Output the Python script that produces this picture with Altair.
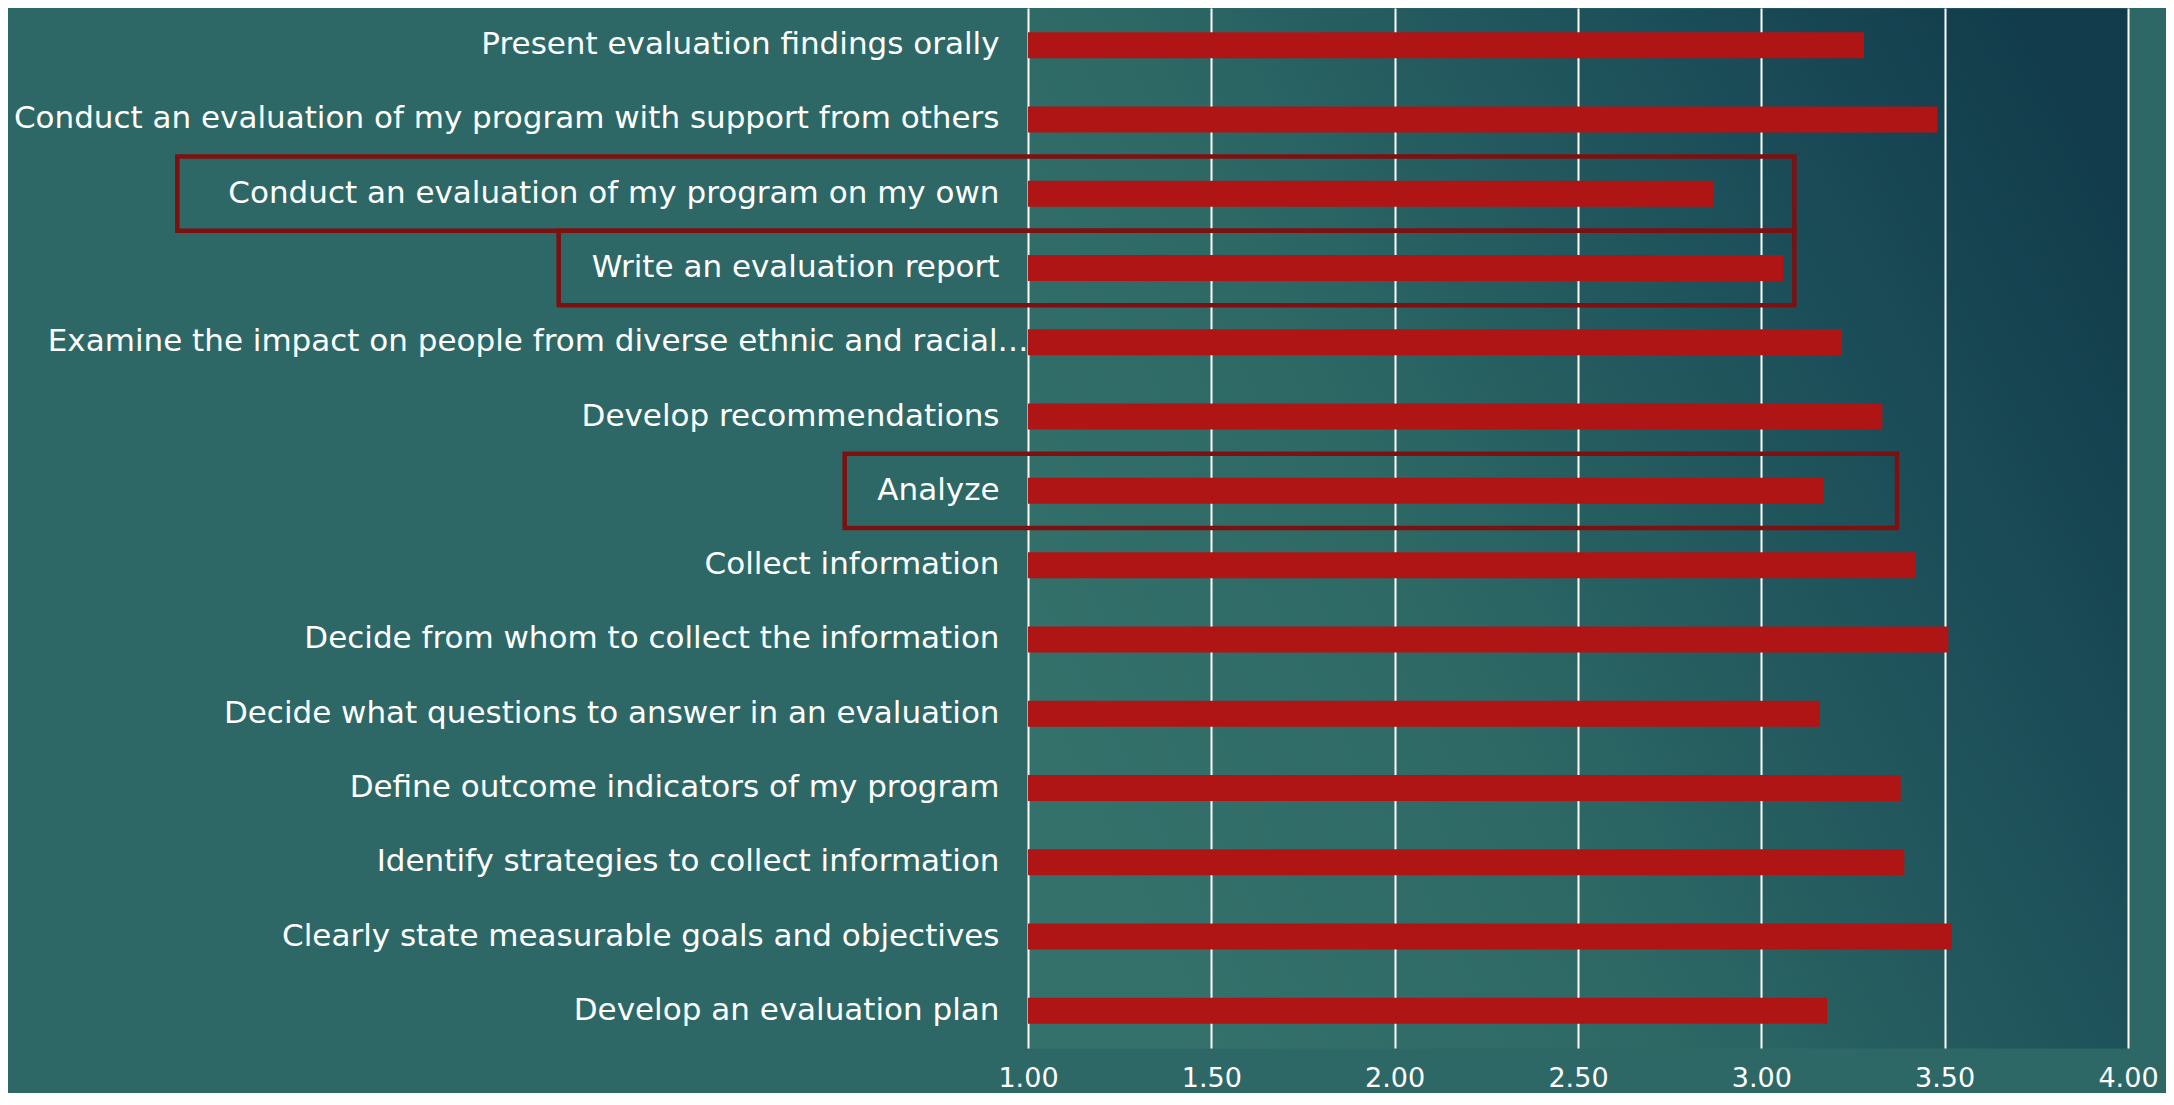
import altair as alt
import pandas as pd

# ---- data ----
categories = [
    "Present evaluation findings orally",
    "Conduct an evaluation of my program with support from others",
    "Conduct an evaluation of my program on my own",
    "Write an evaluation report",
    "Examine the impact on people from diverse ethnic and racial\u2026",
    "Develop recommendations\u00a0",
    "Analyze\u00a0",
    "Collect information",
    "Decide from whom to collect the information",
    "Decide what questions to answer in an evaluation",
    "Define outcome indicators of my program",
    "Identify strategies to collect information",
    "Clearly state measurable goals and objectives",
    "Develop an evaluation plan",
]
scores = [3.28, 3.48, 2.87, 3.06, 3.22, 3.33, 3.17, 3.42, 3.51, 3.16, 3.38, 3.39, 3.52, 3.18]
tick_values = [1.0, 1.5, 2.0, 2.5, 3.0, 3.5, 4.0]

# highlight boxes (in axis units)
box_items = [categories[2], categories[3], categories[6]]
box_start = [-1.32, -0.28, 0.50]
box_end = [3.09, 3.09, 3.37]

df = pd.DataFrame({"item": categories, "score": scores})
box_df = pd.DataFrame({"item": box_items, "x0": box_start, "x1": box_end})

FONT = "DejaVu Sans"
x_scale = alt.Scale(domain=[1, 4], nice=False, zero=False)

bars = alt.Chart(df).mark_bar(color="#b01515").encode(
    y=alt.Y(
        "item:N",
        sort=categories,
        scale=alt.Scale(domain=categories, paddingInner=0.65, paddingOuter=0.325),
        axis=alt.Axis(
            title=None,
            ticks=False,
            domain=False,
            grid=False,
            labelColor="white",
            labelFont=FONT,
            labelFontSize=31,
            labelLimit=1100,
            labelPadding={
                "condition": {"test": "indexof(datum.value, 'Examine') === 0", "value": 0},
                "value": 29,
            },
        ),
    ),
    x=alt.X(
        "score:Q",
        scale=x_scale,
        axis=alt.Axis(
            title=None,
            values=tick_values,
            format=".2f",
            grid=True,
            gridColor="white",
            gridWidth=2,
            gridOpacity=1,
            ticks=False,
            domain=False,
            labelFlush=False,
            labelColor="white",
            labelFont=FONT,
            labelFontSize=27,
            labelPadding=17,
        ),
    ),
    x2=alt.datum(1),
)

boxes = alt.Chart(box_df).mark_rect(
    filled=False, stroke="#7d1010", strokeWidth=4.5, clip=False
).encode(
    y=alt.Y(
        "item:N",
        sort=categories,
        scale=alt.Scale(domain=categories, paddingInner=0, paddingOuter=0),
        axis=None,
    ),
    x=alt.X("x0:Q", scale=x_scale),
    x2="x1:Q",
)

gradient_expr = (
    "{gradient: 'linear', x1: 0, y1: 0.7, x2: 1, y2: 0.2, stops: ["
    "{offset: 0, color: '#35716b'}, {offset: 0.35, color: '#2d6865'}, "
    "{offset: 0.75, color: '#1b4d58'}, {offset: 1, color: '#123c4b'}]}"
)

chart = (
    alt.layer(bars, boxes)
    .resolve_scale(y="independent")
    .properties(
        width=1100,
        height=1040,
        autosize=alt.AutoSizeParams(type="none"),
        padding={"left": 1020, "top": 0, "right": 38, "bottom": 45},
        background="#2e6866",
    )
    .configure_view(strokeOpacity=0, fill={"expr": gradient_expr})
)

chart.save("out.html", embed_options={"renderer": "svg", "actions": False})
